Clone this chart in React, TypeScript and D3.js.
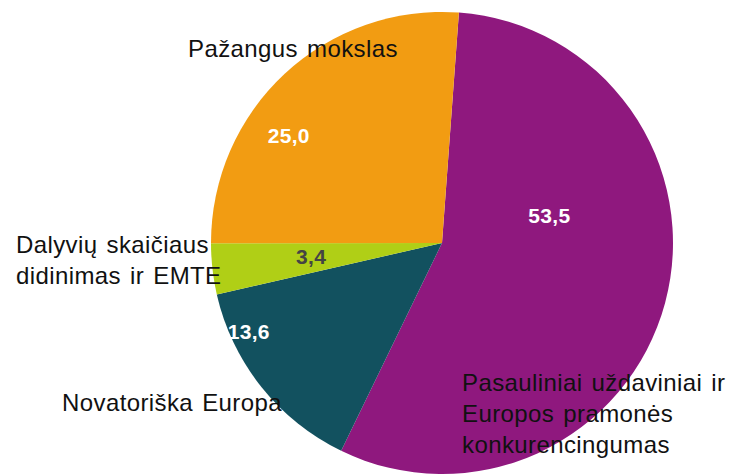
import React from "react";
import * as d3 from "d3";

// Data
const categories = [
  "Pasauliniai uždaviniai ir Europos pramonės konkurencingumas",
  "Novatoriška Europa",
  "Dalyvių skaičiaus didinimas ir EMTE",
  "Pažangus mokslas",
];
const values = [53.5, 13.6, 3.4, 25.0];
const valueLabels = ["53,5", "13,6", "3,4", "25,0"];
const categoryLines = [
  ["Pasauliniai uždaviniai ir", "Europos pramonės", "konkurencingumas"],
  ["Novatoriška Europa"],
  ["Dalyvių skaičiaus", "didinimas ir EMTE"],
  ["Pažangus mokslas"],
];

// Style / layout
const colors = ["#8F187E", "#12515F", "#B0CF16", "#F29C12"];
const valueColors = ["#ffffff", "#ffffff", "#444444", "#ffffff"];
const labelAngleDeg = [75.5, 245.4, 264, 305];
const labelRadiusFrac = [0.48, 0.92, 0.57, 0.81];
const catPos: [number, number][] = [
  [462, 391],
  [62, 411],
  [16, 253],
  [188, 57],
];
const lineHeight = 31;

const W = 732;
const H = 476;
const cx = 442;
const cy = 243;
const R = 231;
const startDeg = 4.2;

export default function App() {
  const pie = d3
    .pie<number>()
    .sort(null)
    .value((d) => d)
    .startAngle((startDeg * Math.PI) / 180)
    .endAngle(((startDeg + 360) * Math.PI) / 180);
  const arcs = pie(values);
  const arc = d3.arc<d3.PieArcDatum<number>>().innerRadius(0).outerRadius(R);

  return (
    <svg
      width={W}
      height={H}
      style={{ position: "absolute", left: 0, top: 0, background: "#fff" }}
      fontFamily="'Liberation Sans', Arial, sans-serif"
    >
      <g transform={`translate(${cx},${cy})`}>
        {arcs.map((a, i) => (
          <path key={i} d={arc(a) || ""} fill={colors[i]} />
        ))}
        {arcs.map((a, i) => {
          const ang = (labelAngleDeg[i] * Math.PI) / 180;
          const r = labelRadiusFrac[i] * R;
          return (
            <text
              key={"v" + i}
              x={Math.sin(ang) * r}
              y={-Math.cos(ang) * r}
              dy="0.36em"
              textAnchor="middle"
              fontSize={21}
              fontWeight="bold"
              letterSpacing={0.3}
              fill={valueColors[i]}
            >
              {valueLabels[i]}
            </text>
          );
        })}
      </g>
      {categories.map((c, i) => (
        <text
          key={"c" + i}
          x={catPos[i][0]}
          y={catPos[i][1]}
          fontSize={24}
          letterSpacing={0.4}
          wordSpacing={2}
          fill="#111111"
          aria-label={c}
        >
          {categoryLines[i].map((ln, j) => (
            <tspan key={j} x={catPos[i][0]} y={catPos[i][1] + j * lineHeight}>
              {ln}
            </tspan>
          ))}
        </text>
      ))}
    </svg>
  );
}
